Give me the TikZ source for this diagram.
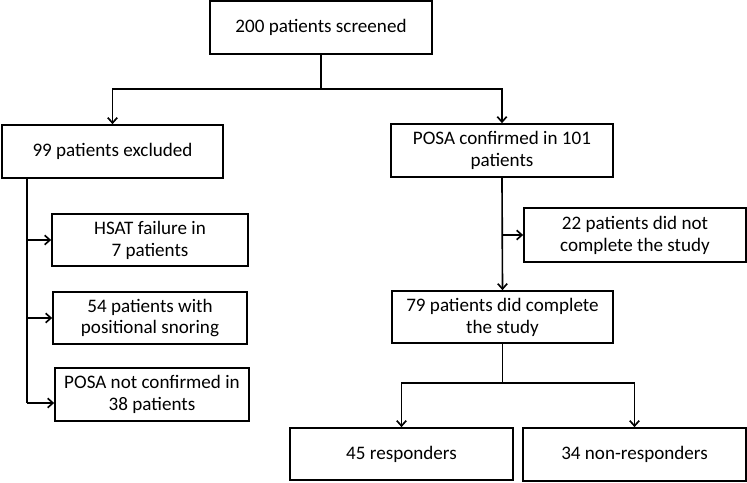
\documentclass[tikz,border=0pt]{standalone}
\usepackage{fontspec}
\setmainfont{Carlito}
\usetikzlibrary{arrows.meta}

\begin{document}
\begin{tikzpicture}[
    x=0.03cm, y=-0.03cm,
    box/.style={rectangle, draw, line width=1.4pt, align=center, inner sep=0pt, font=\fontsize{16.3}{18.7}\selectfont},
    link/.style={line width=1.4pt},
    arr/.style={link, -{Straight Barb[length=4.5pt, width=8pt]}}
]
\useasboundingbox (0,0) rectangle (747,483);

% Boites du diagramme
\node[box, minimum width=6.66cm, minimum height=1.59cm] (screened) at (321,27.5) {200 patients screened};
\node[box, minimum width=6.63cm, minimum height=1.59cm] (excluded) at (112.5,151.5) {99 patients excluded};
\node[box, minimum width=6.66cm, minimum height=1.59cm] (confirmed) at (502,150.5) {POSA confirmed in 101\\patients};

\node[box, minimum width=5.88cm, minimum height=1.56cm] (hsat) at (150,240) {HSAT failure in\\7 patients};
\node[box, minimum width=5.82cm, minimum height=1.56cm] (snoring) at (150,318) {54 patients with\\positional snoring};
\node[box, minimum width=5.82cm, minimum height=1.59cm] (notconf) at (152,394.5) {POSA not confirmed in\\38 patients};

\node[box, minimum width=6.66cm, minimum height=1.62cm] (notcompl) at (635,235) {22 patients did not\\complete the study};
\node[box, minimum width=6.63cm, minimum height=1.56cm] (compl) at (502.5,317) {79 patients did complete\\the study};

\node[box, minimum width=6.69cm, minimum height=1.56cm] (resp) at (401.5,454) {45 responders};
\node[box, minimum width=6.69cm, minimum height=1.59cm] (nonresp) at (634.5,454.5) {34 non-responders};

% Liaisons
\draw[link] (screened.south) -- ++(0,34) coordinate (split);
\draw[arr] (split) -| (excluded.north);
\draw[arr] (split) -| (confirmed.north);

\coordinate (trunk) at ([xshift=0.78cm]excluded.south west);
\coordinate (trunkend) at ([yshift=-0.255cm]notconf.west);
\draw[link] (trunk) -- (trunk |- trunkend);
\draw[arr] (trunk |- hsat.west) -- (hsat.west);
\draw[arr] (trunk |- snoring.west) -- (snoring.west);
\draw[arr] (trunk |- trunkend) -- (trunkend);

\draw[arr] (confirmed.south) -- (compl.north);
\draw[arr] (confirmed.south |- notcompl.west) -- (notcompl.west);

\draw[link] (compl.south) -- ++(0,39) coordinate (split2);
\draw[arr] (split2) -| (resp.north);
\draw[arr] (split2) -| (nonresp.north);

\end{tikzpicture}
\end{document}
